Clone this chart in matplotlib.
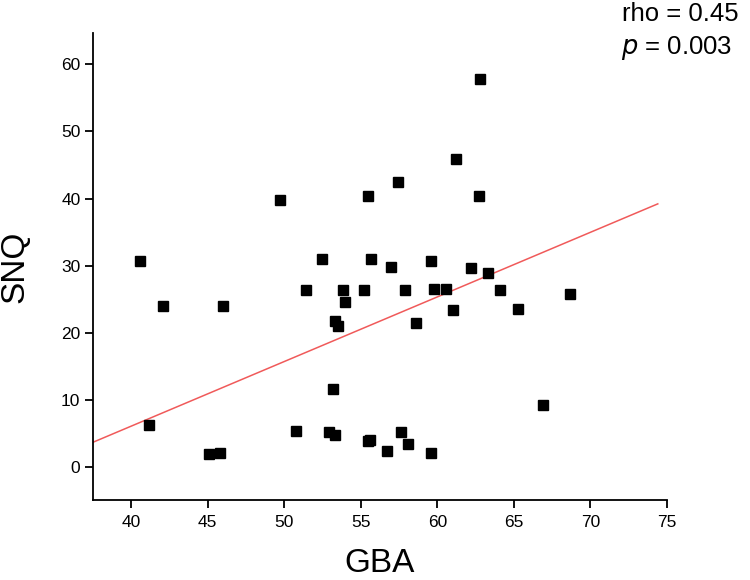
"""Scatter of SNQ against GBA with a fitted line."""

import matplotlib
matplotlib.use("Agg")
import matplotlib.pyplot as plt

# values
gba = [40.6, 42.1, 46.0, 41.2, 45.1, 45.8, 49.75, 51.4, 52.5, 50.75,
       53.2, 53.35, 53.5, 52.9, 53.35, 53.85, 54.0, 55.2, 55.5, 55.7,
       57.0, 57.45, 57.9, 58.6, 55.45, 55.6, 56.7, 57.6, 58.1, 59.6,
       59.8, 60.6, 61.0, 61.2, 62.2, 62.75, 62.8, 63.3, 64.1, 65.3,
       66.9, 68.65, 59.6]
snq = [30.7, 23.9, 23.9, 6.2, 1.9, 2.0, 39.8, 26.3, 30.9, 5.3,
       11.6, 21.7, 21.0, 5.1, 4.7, 26.3, 24.6, 26.3, 40.3, 30.9,
       29.8, 42.4, 26.3, 21.4, 3.8, 4.0, 2.3, 5.1, 3.3, 30.7,
       26.5, 26.5, 23.3, 45.9, 29.7, 40.3, 57.9, 28.9, 26.4, 23.5,
       9.2, 25.8, 2.0]

# fitted line, end points
fit_x = [37.5, 74.4]
fit_y = [3.6, 39.2]

x_ticks = [40, 45, 50, 55, 60, 65, 70, 75]
y_ticks = [0, 10, 20, 30, 40, 50, 60]

plt.rcParams["font.family"] = ["Liberation Sans", "DejaVu Sans"]

fig = plt.figure(figsize=(7.5, 5.8), dpi=100)
ax = fig.add_axes([0.1236, 0.1379, 0.7657, 0.8052])

ax.plot(fit_x, fit_y, color="#f05a5a", lw=1.1, zorder=1)
ax.plot(gba, snq, ls="none", marker="s", ms=6.5, color="black", zorder=2)

ax.set_xlim(37.5, 75)
ax.set_ylim(-5.0, 64.7)
ax.set_xticks(x_ticks)
ax.set_yticks(y_ticks)

for side in ("top", "right"):
    ax.spines[side].set_visible(False)
for side in ("left", "bottom"):
    ax.spines[side].set_linewidth(1.3)
ax.tick_params(direction="out", length=5.8, width=1.3, labelsize=12.5)
ax.tick_params(axis="x", pad=5)
ax.tick_params(axis="y", pad=3)

ax.set_xlabel("GBA", fontsize=24, labelpad=13)
ax.set_ylabel("SNQ", fontsize=24, labelpad=22)

fig.text(0.830, 0.997, "rho = 0.45", fontsize=18.5, ha="left", va="top")
fig.text(0.828, 0.942, "$p$ = 0.003", fontsize=18.5, ha="left", va="top")

fig.savefig("out.png", dpi=100)
